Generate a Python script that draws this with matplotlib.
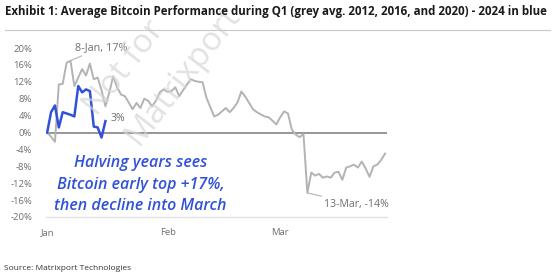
import matplotlib.pyplot as plt
from matplotlib.lines import Line2D

# day index (0 = 1 Jan) and average Q1 performance in %, halving years avg (grey)
avg_days = [0, 1, 2, 3, 4, 5, 6, 7, 8, 9, 10, 11, 12, 13, 14, 15, 16, 17, 18, 19,
            20, 21, 22, 23, 24, 25, 26, 27, 28, 29, 30, 31, 32, 33, 34, 35, 36, 37, 38, 39,
            40, 41, 42, 43, 44, 45, 46, 47, 48, 49, 50, 51, 52, 53, 54, 55, 56, 57, 58, 59,
            60, 61, 62, 63, 64, 65, 66, 67, 68, 69, 70, 71, 72, 73, 74, 75, 76, 77, 78, 79,
            80, 81, 82, 83, 84, 85, 86, 87]
avg_perf = [0.0, -1.0, -2.2, 11.4, 11.5, 16.5, 17.0, 11.0, 13.0, 15.0, 13.5, 16.3, 12.6, 13.0, 10.0, 6.2, 9.5, 13.3, 10.7, 9.0,
            8.6, 7.1, 5.5, 7.0, 5.8, 8.0, 7.5, 6.2, 7.5, 9.5, 10.2, 9.6, 9.8, 10.7, 8.6, 10.0, 11.4, 12.6, 12.2, 12.0,
            11.9, 8.3, 6.0, 3.8, 4.2, 5.0, 5.8, 4.8, 5.8, 7.1, 9.7, 8.5, 7.0, 5.5, 4.8, 4.3, 3.8, 3.6, 2.8, 1.9,
            3.6, 5.0, 4.5, 0.7, -0.5, -1.1, -0.4, -14.3, -9.5, -10.2, -9.8, -10.7, -10.4, -10.7, -9.5, -9.3, -11.2, -8.3, -8.0, -7.6,
            -8.3, -6.9, -8.5, -10.5, -8.0, -7.6, -6.5, -5.0]

# 2024 (blue)
btc24_days = [0, 1, 2, 3, 4, 5, 6, 7, 8, 9, 10, 11, 12, 13, 14, 15]
btc24_perf = [0.0, 4.8, 6.4, 1.2, 4.8, 4.5, 4.2, 3.8, 11.0, 9.5, 10.2, 9.8, 1.4, 1.2, -1.2, 2.7]

month_ticks = [0, 31, 60]
month_labels = ["Jan", "Feb", "Mar"]
y_ticks = [20, 16, 12, 8, 4, 0, -4, -8, -12, -16, -20]

GREY = "#b3b3b3"
BLUE = "#3152d8"
TXT = "#6e6e6e"

plt.rcParams["font.family"] = ["Open Sans", "DejaVu Sans"]

fig = plt.figure(figsize=(5.55, 2.78), dpi=100)
ax = fig.add_axes([46 / 555, 1 - 217 / 278, (387 - 46) / 555, (217 - 48) / 278])

ax.plot(avg_days, avg_perf, color=GREY, lw=1.4, zorder=3)
ax.plot(btc24_days, btc24_perf, color=BLUE, lw=1.8, zorder=4)
ax.axhline(0, color="#7a7a7a", lw=1.1, zorder=2)

ax.set_xlim(-0.3, 87.5)
ax.set_ylim(-20, 20)
ax.set_yticks(y_ticks)
ax.set_yticklabels([f"{v}%" for v in y_ticks])
ax.set_xticks(month_ticks)
ax.set_xticklabels(month_labels)
ax.tick_params(axis="both", length=0, labelsize=6.8, colors=TXT)
ax.tick_params(axis="x", pad=8)
ax.tick_params(axis="y", pad=10)
for s in ["top", "right", "left"]:
    ax.spines[s].set_visible(False)
ax.spines["bottom"].set_color("#e2e2e2")
ax.spines["bottom"].set_linewidth(1.0)

# peak / trough annotations
pk = avg_perf.index(max(avg_perf))
ax.annotate("8-Jan, 17%", xy=(avg_days[pk], avg_perf[pk]), xytext=(avg_days[pk] + 1.1, 20.1),
            color=TXT, fontsize=7.8, va="center", ha="left", annotation_clip=False,
            arrowprops=dict(arrowstyle="-", color=GREY, lw=0.8, shrinkA=0, shrinkB=0))
tr = avg_perf.index(min(avg_perf))
ax.annotate("13-Mar, -14%", xy=(avg_days[tr], avg_perf[tr]), xytext=(avg_days[tr] + 4.4, -17.0),
            color=TXT, fontsize=7.6, va="center", ha="left", annotation_clip=False,
            arrowprops=dict(arrowstyle="-", color=GREY, lw=0.8, shrinkA=0, shrinkB=0))
ax.text(btc24_days[-1] + 1.3, btc24_perf[-1] + 0.6, f"{round(btc24_perf[-1])}%",
        color=TXT, fontsize=7.6, va="center", ha="left")

ax.text(24, -12.4, "Halving years sees\nBitcoin early top +17%,\nthen decline into March",
        color=BLUE, fontsize=11.5, style="italic", fontweight="semibold", ha="center", va="center",
        linespacing=1.45, zorder=5)

# watermark
fig.text(0.225, 0.755, "Not for", rotation=52, fontsize=24, color="#d6d6d6",
         alpha=0.7, ha="center", va="center", zorder=0)
fig.text(0.33, 0.73, "Matrixport", rotation=52, fontsize=24, color="#d6d6d6",
         alpha=0.7, ha="center", va="center", zorder=0)

fig.text(0.009, 1 - 11 / 278, "Exhibit 1: Average Bitcoin Performance during Q1 (grey avg. 2012, 2016, and 2020) - 2024 in blue",
         fontsize=8.3, fontweight="bold", color="#1a1a1a", ha="left", va="center")
fig.add_artist(Line2D([5 / 555, 550 / 555], [1 - 30 / 278, 1 - 30 / 278],
                      color="#c8c8c8", lw=0.8, transform=fig.transFigure))
fig.text(0.007, 1 - 269 / 278, "Source: Matrixport Technologies",
         fontsize=6.0, color="#333333", ha="left", va="center")

fig.savefig("out.png", dpi=100)
